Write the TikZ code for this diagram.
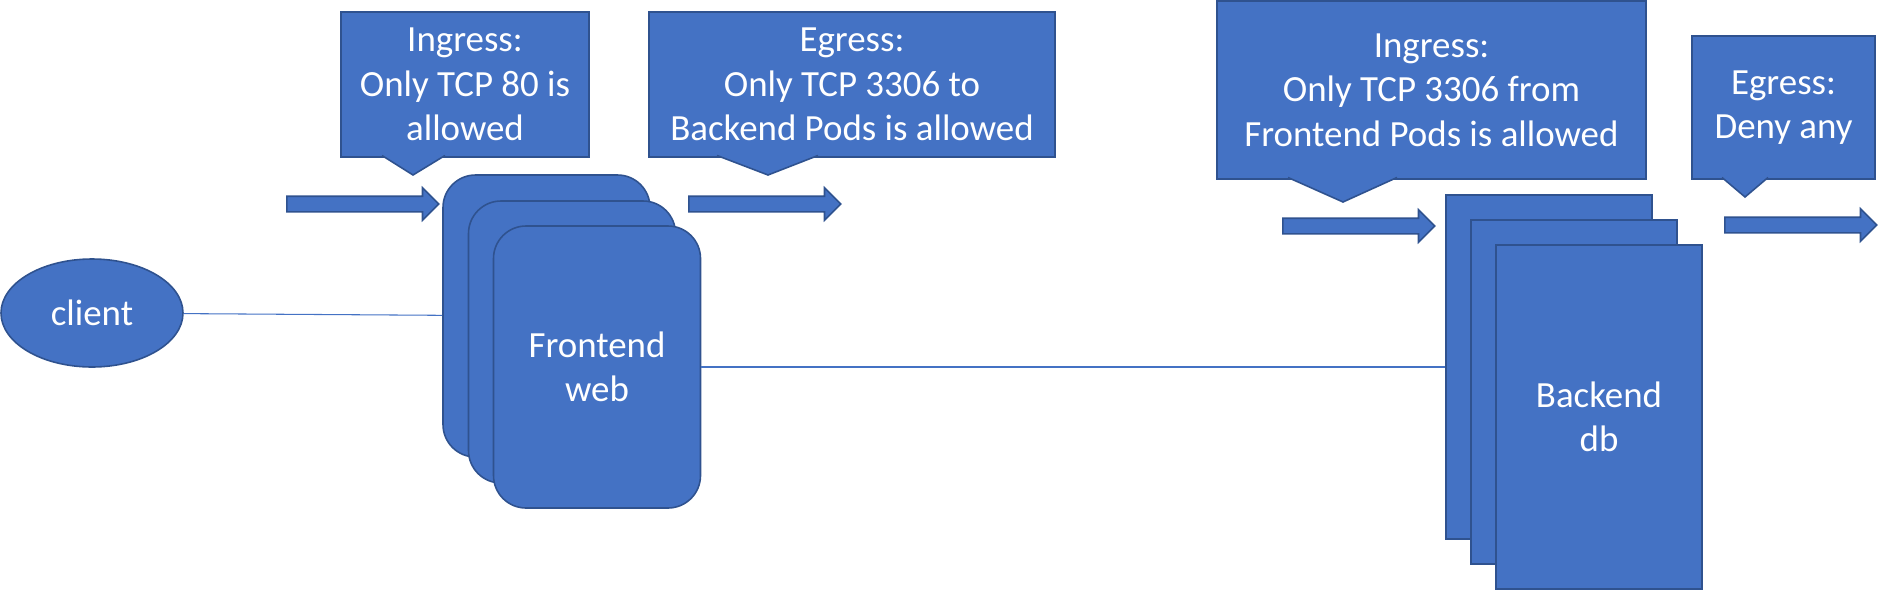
\documentclass[tikz,border=0pt]{standalone}
\usepackage{fontspec}
\setmainfont{Carlito}
\usetikzlibrary{shapes.geometric,shapes.arrows}
\definecolor{podblue}{HTML}{4472C4}
\definecolor{podedge}{HTML}{2F528F}

\begin{document}
\begin{tikzpicture}[
		every node/.style={text=white,font=\fontsize{21}{25.3}\selectfont},
		pod/.style={draw=podedge,fill=podblue,line width=0.9pt,inner sep=0pt},
		frontpod/.style={pod,rounded corners=0.65cm,minimum width=4.14cm,minimum height=5.64cm},
		backpod/.style={pod,minimum width=4.12cm,minimum height=6.88cm},
		policy/.style={pod,align=center,minimum height=2.90cm},
		policytip/.style={draw=podedge,fill=podblue,line width=0.9pt},
		flow/.style={pod,single arrow,anchor=tail,inner ysep=0.14cm,minimum height=3.04cm,
			single arrow head extend=0.17cm,single arrow tip angle=90},
		wire/.style={draw=podblue,line width=0.6pt}
	]
				\useasboundingbox (0,0) rectangle (37.56,-11.80);
				\node[pod,ellipse,minimum width=3.64cm,minimum height=2.16cm] (client) at (1.84,-6.26) {client};
				\node[frontpod] (web1) at (10.93,-6.32) {};
				\node[frontpod] (web2) at (11.44,-6.84) {};
				\node[frontpod,align=center] (web3) at (11.94,-7.34) {Frontend\\web};
				\node[backpod] (db1) at (30.98,-7.34) {};
				\node[backpod] (db2) at (31.48,-7.84) {};
				\node[backpod,align=center] (db3) at (31.98,-8.34) {Backend\\db};
				\draw[wire] (client) -- (web1);
				\draw[wire] (web3.east) -- (db1.west);
				\node[policy,minimum width=4.96cm] (ingweb) at (9.30,-1.69) {Ingress:\\Only TCP 80 is\\allowed};
				\node[policy,minimum width=8.12cm] (egrweb) at (17.04,-1.69) {Egress:\\Only TCP 3306 to\\Backend Pods is allowed};
				\node[policy,minimum width=8.58cm,minimum height=3.56cm] (ingdb) at (28.63,-1.80) {Ingress:\\Only TCP 3306 from\\Frontend Pods is allowed};
				\node[policy,minimum width=3.66cm,minimum height=2.86cm] (egrdb) at (35.67,-2.15) {Egress:\\Deny any};
				\path[policytip] (7.64,-3.11) -- (8.26,-3.50) -- (8.90,-3.11);
				\path[policytip] (14.34,-3.11) -- (15.36,-3.50) -- (16.36,-3.11);
				\path[policytip] (25.76,-3.55) -- (26.86,-4.04) -- (27.94,-3.55);
				\path[policytip] (34.44,-3.55) -- (34.90,-3.94) -- (35.36,-3.55);
				\node[flow] (inweb) at (5.72,-4.08) {};
				\node[flow] (outweb) at (13.76,-4.08) {};
				\node[flow] (indb) at (25.64,-4.52) {};
				\node[flow] (outdb) at (34.48,-4.50) {};
\end{tikzpicture}
\end{document}
